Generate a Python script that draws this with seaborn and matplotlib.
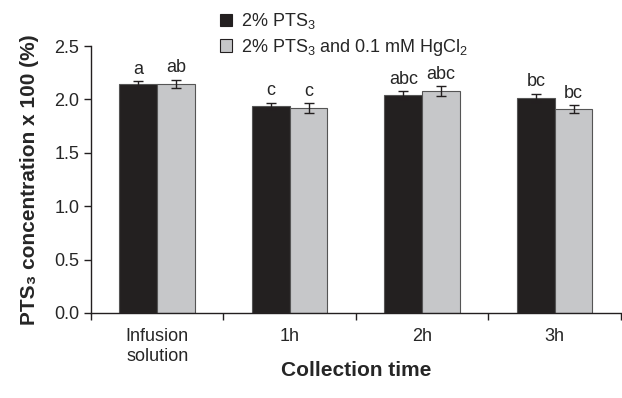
import pandas as pd
import matplotlib
matplotlib.use("Agg")
import matplotlib.pyplot as plt
import seaborn as sns
from matplotlib.patches import Patch

# data
times = ["Infusion\nsolution", "1h", "2h", "3h"]
groups = ["2% PTS$_3$", "2% PTS$_3$ and 0.1 mM HgCl$_2$"]
pts3 = [2.14, 1.94, 2.04, 2.015]
pts3_hg = [2.145, 1.92, 2.08, 1.91]
err_pts3 = [0.035, 0.03, 0.037, 0.04]
err_pts3_hg = [0.04, 0.047, 0.047, 0.04]
letters_pts3 = ["a", "c", "abc", "bc"]
letters_pts3_hg = ["ab", "c", "abc", "bc"]

colors = ["#231f20", "#c6c7c9"]

sns.set_style("ticks")
plt.rcParams["font.family"] = ["Liberation Sans", "DejaVu Sans"]
plt.rcParams["mathtext.fontset"] = "custom"
plt.rcParams["mathtext.rm"] = "Liberation Sans"
plt.rcParams["mathtext.it"] = "Liberation Sans"

df = pd.DataFrame({
    "time": times * 2,
    "group": [groups[0]] * 4 + [groups[1]] * 4,
    "value": pts3 + pts3_hg,
})

fig = plt.figure(figsize=(6.22, 3.98), dpi=100)
ax = fig.add_axes([0.1463, 0.2136, 0.852, 0.6708])

sns.barplot(data=df, x="time", y="value", hue="group", palette=colors,
            width=0.57, gap=0, errorbar=None, ax=ax, legend=False,
            edgecolor="#555555", linewidth=0.8)

# error bars + letters at bar centres
errs = err_pts3 + err_pts3_hg
labs = letters_pts3 + letters_pts3_hg
vals = pts3 + pts3_hg
for p, v, e, t in zip(ax.patches[:8], vals, errs, labs):
    cx = p.get_x() + p.get_width() / 2
    ax.errorbar(cx, v, yerr=e, fmt="none", ecolor="#231f20",
                elinewidth=1, capsize=3.5, capthick=1)
    ax.text(cx, v + e + 0.03, t, ha="center", va="bottom", fontsize=13)

ax.set_ylim(0, 2.5)
ax.set_yticks([0, 0.5, 1.0, 1.5, 2.0, 2.5])
ax.set_yticklabels(["0.0", "0.5", "1.0", "1.5", "2.0", "2.5"], fontsize=13)
ax.set_xlim(-0.5, 3.5)
ax.set_xticks([-0.5, 0.5, 1.5, 2.5, 3.5])
ax.set_xticklabels([])
ax.set_xticks(range(4), minor=True)
ax.set_xticklabels(times, minor=True, fontsize=13)
ax.tick_params(axis="x", which="minor", length=0, pad=11)
ax.tick_params(axis="both", which="major", length=5, width=1, color="#231f20")
ax.set_xlabel("Collection time", fontsize=15, fontweight="bold")
ax.xaxis.set_label_coords(0.5, -0.18)
ax.set_ylabel("PTS₃ concentration x 100 (%)", fontsize=15, fontweight="bold", labelpad=11)
sns.despine(ax=ax, top=True, right=True)
for s in ["left", "bottom"]:
    ax.spines[s].set_color("#231f20")
    ax.spines[s].set_linewidth(1)

handles = [Patch(facecolor=c, edgecolor="#231f20", linewidth=0.8) for c in colors]
fig.legend(handles, groups, loc="upper left", bbox_to_anchor=(0.327, 1.012),
           frameon=False, fontsize=13, handlelength=0.7, handleheight=0.7,
           handletextpad=0.5, labelspacing=0.3)

fig.savefig("out.png", dpi=100)
